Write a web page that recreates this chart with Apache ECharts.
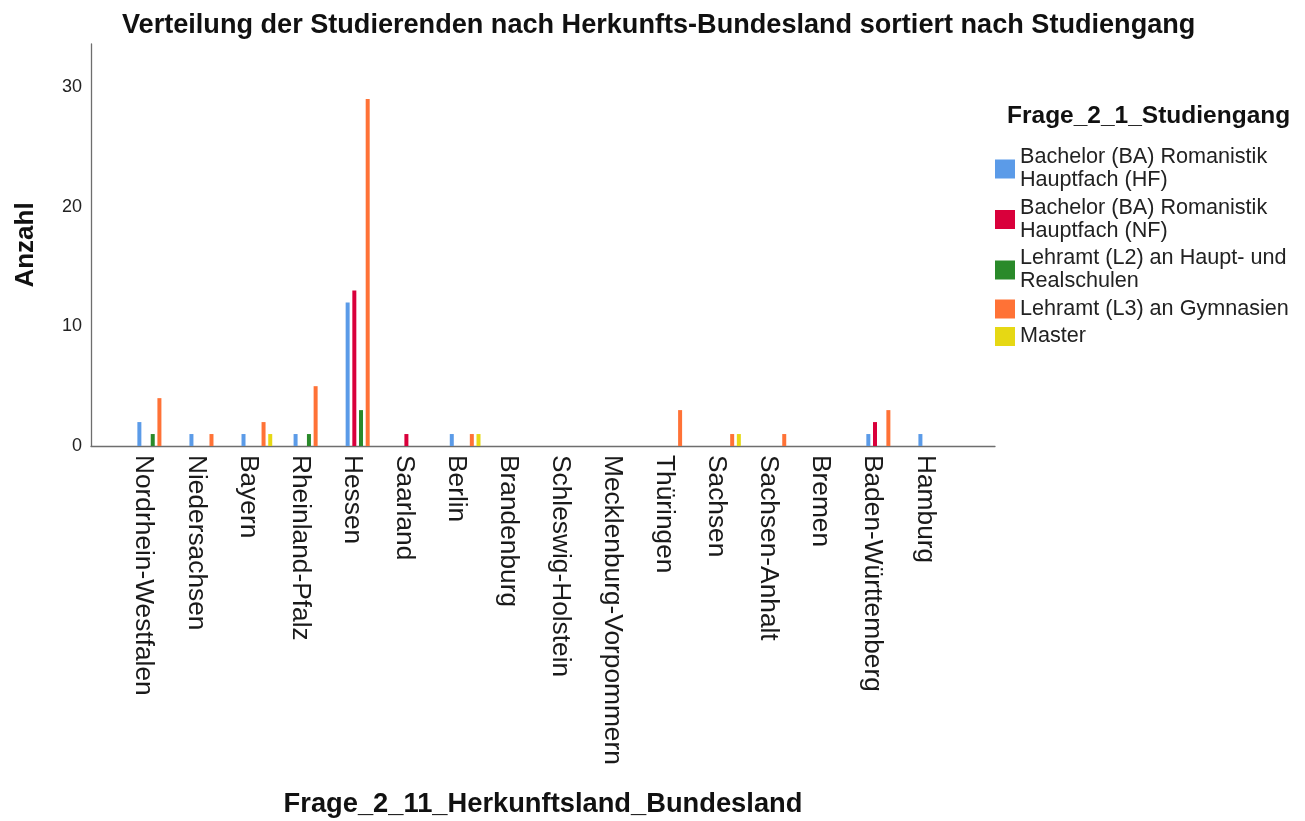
<!DOCTYPE html>
<html>
<head>
<meta charset="utf-8">
<script src="https://cdn.jsdelivr.net/npm/echarts@6/dist/echarts.min.js"></script>
<style>
html,body{margin:0;padding:0;background:#fff;}
#chart{width:1305px;height:821px;}
</style>
</head>
<body>
<div id="chart"></div>
<script>
const categories = ['Nordrhein-Westfalen','Niedersachsen','Bayern','Rheinland-Pfalz','Hessen','Saarland','Berlin','Brandenburg','Schleswig-Holstein','Mecklenburg-Vorpommern','Thüringen','Sachsen','Sachsen-Anhalt','Bremen','Baden-Württemberg','Hamburg'];
const seriesNames = ['Bachelor (BA) Romanistik Hauptfach (HF)','Bachelor (BA) Romanistik Hauptfach (NF)','Lehramt (L2) an Haupt- und Realschulen','Lehramt (L3) an Gymnasien','Master'];
const legendLabels = ['Bachelor (BA) Romanistik\nHauptfach (HF)','Bachelor (BA) Romanistik\nHauptfach (NF)','Lehramt (L2) an Haupt- und\nRealschulen','Lehramt (L3) an Gymnasien','Master'];
const bachelorHF = [2,1,1,1,12,0,1,0,0,0,0,0,0,0,1,1];
const bachelorNF = [0,0,0,0,13,1,0,0,0,0,0,0,0,0,2,0];
const lehramtL2  = [1,0,0,1,3,0,0,0,0,0,0,0,0,0,0,0];
const lehramtL3  = [4,1,2,5,29,0,1,0,0,0,3,1,1,0,3,0];
const master     = [0,0,1,0,0,0,1,0,0,0,0,1,0,0,0,0];
const seriesValues = [bachelorHF, bachelorNF, lehramtL2, lehramtL3, master];
const colors = ['#5b9be8','#d9003b','#2a8a2a','#ff7236','#e6d814'];

const FONT = '"Liberation Sans", Arial, sans-serif';
const YMAX = 33.6;

const chart = echarts.init(document.getElementById('chart'), null, {renderer: 'canvas'});
const option = {
  backgroundColor: '#ffffff',
  animation: false,
  title: [
    {
      text: 'Verteilung der Studierenden nach Herkunfts-Bundesland sortiert nach Studiengang',
      left: 122, top: 12, padding: 0,
      textStyle: {fontFamily: FONT, fontSize: 27.1, fontWeight: 'bold', color: '#111'}
    },
    {
      text: 'Frage_2_1_Studiengang',
      left: 1007, top: 104, padding: 0,
      textStyle: {fontFamily: FONT, fontSize: 24.5, fontWeight: 'bold', color: '#111'}
    }
  ],
  legend: {
    orient: 'vertical',
    left: 995, top: 146, padding: 0,
    itemWidth: 20, itemHeight: 19, itemGap: 4.5,
    icon: 'rect',
    data: seriesNames,
    formatter: function (name) { return legendLabels[seriesNames.indexOf(name)]; },
    textStyle: {fontFamily: FONT, fontSize: 21.6, color: '#222', lineHeight: 23}
  },
  grid: [
    {left: 91, right: 310, top: 44, bottom: 375, containLabel: false},
    {left: 126.7, right: 345.2, top: 44, bottom: 375, containLabel: false}
  ],
  xAxis: [
    {
      gridIndex: 0, type: 'value', min: 0, max: 1,
      axisLine: {show: true, onZero: false, lineStyle: {color: '#6e6e6e', width: 1.3}},
      axisTick: {show: false}, axisLabel: {show: false}, splitLine: {show: false},
      name: 'Frage_2_11_Herkunftsland_Bundesland',
      nameLocation: 'middle', nameGap: 345,
      nameTextStyle: {fontFamily: FONT, fontSize: 27.3, fontWeight: 'bold', color: '#111', verticalAlign: 'top'}
    },
    {
      gridIndex: 1, type: 'category', data: categories,
      axisLine: {show: false}, axisTick: {show: false}, splitLine: {show: false},
      axisLabel: {
        interval: 0, rotate: -90, margin: 9,
        fontFamily: FONT, fontSize: 26.3, color: '#1a1a1a',
        verticalAlign: 'top', lineHeight: 18
      }
    }
  ],
  yAxis: [
    {
      gridIndex: 0, type: 'value', min: 0, max: YMAX, interval: 10,
      axisLine: {show: true, lineStyle: {color: '#6e6e6e', width: 1.3}},
      axisTick: {show: false}, splitLine: {show: false},
      axisLabel: {fontFamily: FONT, fontSize: 18, color: '#222', margin: 9, showMaxLabel: false},
      name: 'Anzahl', nameLocation: 'middle', nameRotate: 90, nameGap: 52,
      nameTextStyle: {fontFamily: FONT, fontSize: 26, fontWeight: 'bold', color: '#111'}
    },
    {
      gridIndex: 1, type: 'value', min: 0, max: YMAX, show: false,
      splitLine: {show: false}
    }
  ],
  series: seriesNames.map(function (n, i) {
    return {
      name: n, type: 'bar', xAxisIndex: 1, yAxisIndex: 1,
      data: seriesValues[i], barWidth: 4, barGap: '67%',
      itemStyle: {color: colors[i]}
    };
  })
};
chart.setOption(option);
</script>
</body>
</html>
